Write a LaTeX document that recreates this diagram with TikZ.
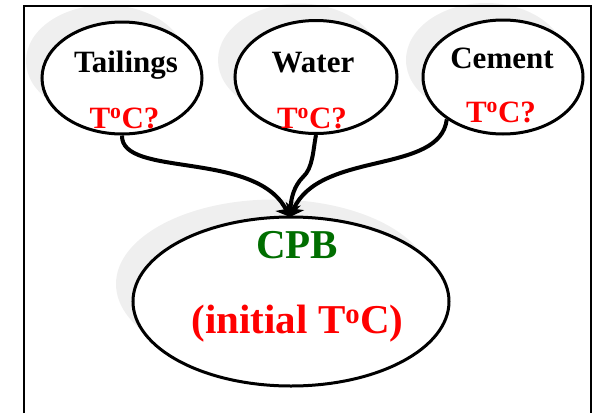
\documentclass[tikz,border=0pt]{standalone}
\usepackage{fontspec}
\setmainfont{Liberation Serif}
\usetikzlibrary{shapes.geometric,arrows.meta}
\definecolor{shade}{RGB}{239,239,239}
\definecolor{cpbgreen}{RGB}{0,110,0}
\definecolor{tred}{RGB}{255,0,0}
\tikzset{
  bubble/.style={ellipse, draw=black, line width=3pt, fill=white, inner sep=0pt},
  halo/.style={ellipse, fill=shade, draw=none, inner sep=0pt},
  nametext/.style={anchor=base, inner sep=0pt, font=\fontsize{31}{31}\selectfont\bfseries},
  temptext/.style={anchor=base, inner sep=0pt, text=tred, font=\fontsize{31}{31}\selectfont\bfseries},
  bigtext/.style={anchor=base, inner sep=0pt, font=\fontsize{41}{41}\selectfont\bfseries},
  flow/.style={line width=4pt, -{Stealth[length=12pt,width=20pt,inset=3pt]}},
}
\newcommand{\degC}{T\textsuperscript{o}C}
\begin{document}
\begin{tikzpicture}[x=1pt,y=-1pt]
\useasboundingbox (0,0) rectangle (598,413);

% soft shadows behind the bubbles
\node[halo, minimum width=160pt, minimum height=112pt] at (106,61) {};
\node[halo, minimum width=162pt, minimum height=113pt] at (299,60) {};
\node[halo, minimum width=160pt, minimum height=114pt] at (486,60) {};
\node[halo, minimum width=316pt, minimum height=169pt] at (274,284) {};

% open frame
\draw[line width=2.5pt] (24,413) -- (24,6) -- (591,6) -- (591,413);

% bubbles
\node[bubble, minimum width=160pt, minimum height=112pt] (tail) at (122,78) {};
\node[bubble, minimum width=162pt, minimum height=113pt] (wat) at (316,77) {};
\node[bubble, minimum width=160pt, minimum height=114pt] (cem) at (503,77) {};
\node[bubble, minimum width=316pt, minimum height=169pt] (cpb) at (291,301.5) {};

% labels
\node[nametext] (tailname) at (126,72) {Tailings};
\node[temptext] (tailtemp) at (124.5,128) {\degC?};
\node[nametext] (watname) at (313,72) {Water};
\node[temptext] (wattemp) at (312,128) {\degC?};
\node[nametext] (cemname) at (502,68) {Cement};
\node[temptext] (cemtemp) at (501,122) {\degC?};
\node[bigtext, text=cpbgreen] (cpbname) at (297,258) {CPB};
\node[bigtext, text=tred] (cpbtemp) at (297.5,333) {(initial \degC)};

% flows into the mix
\coordinate (tip) at (290,217);
\coordinate (kink) at (303,177);
\draw[flow] (tail.south) .. controls (121,178) and (255,150) .. (tip);
\draw[flow] (wat.south) .. controls (313,150) and (313,168) .. (kink)
  .. controls (294,186) and (291,198) .. (tip);
\draw[flow] (cem.-143) .. controls (440,175) and (320,150) .. (tip);
\end{tikzpicture}
\end{document}
